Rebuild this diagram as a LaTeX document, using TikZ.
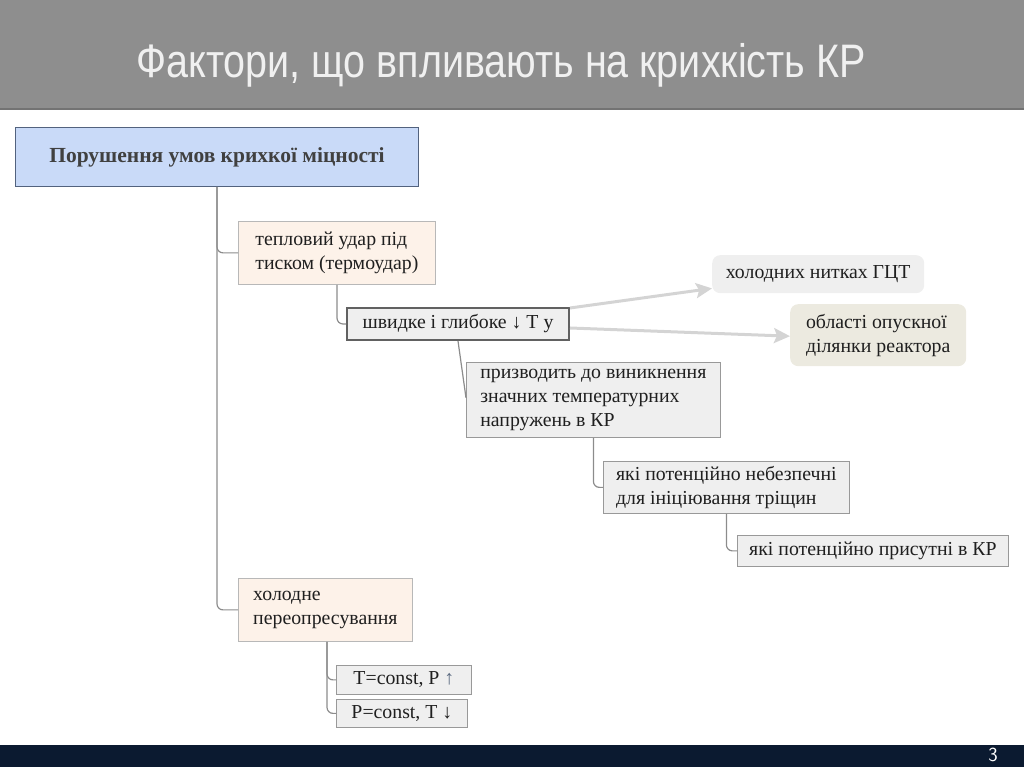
\documentclass[tikz,border=0pt]{standalone}
\usepackage{fontspec}
\setmainfont{Liberation Serif}
\newfontfamily\titlefont[FakeStretch=0.84]{Liberation Sans}
\usetikzlibrary{arrows.meta}

\definecolor{bargrey}{HTML}{8E8E8E}
\definecolor{barnavy}{HTML}{0B1A30}
\definecolor{rootblue}{HTML}{C9DAF8}
\definecolor{rootedge}{HTML}{52627E}
\definecolor{warmfill}{HTML}{FDF2E9}
\definecolor{cellfill}{HTML}{EFEFEF}
\definecolor{beige}{HTML}{ECEAE0}
\definecolor{upblue}{HTML}{5A6A80}

\begin{document}
\begin{tikzpicture}[
  x=1pt, y=1pt,
  txt/.style={font=\fontsize{19.8}{24}\selectfont, text=black!88, align=left},
  mainbox/.style={anchor=north west, draw=rootedge, fill=rootblue, line width=1pt,
                  font=\fontsize{21.5}{25}\selectfont\bfseries, text=black!75},
  warmbox/.style={txt, anchor=north west, draw=black!28, fill=warmfill, line width=0.8pt},
  cellbox/.style={txt, anchor=north west, draw=black!40, fill=cellfill, line width=0.8pt},
  keybox/.style={txt, anchor=north west, draw=black!62, fill=cellfill, line width=2pt},
  notebox/.style={txt, anchor=north west, rounded corners=8pt, inner xsep=10pt},
  link/.style={draw=black!45, line width=1.2pt, rounded corners=6pt},
  hint/.style={draw=black!17, line width=3pt,
               -{Stealth[length=16pt, width=15pt, inset=3pt]}},
]
  \useasboundingbox (0,0) rectangle (1024,767);

  % title and footer bars
  \fill[bargrey] (0,659) rectangle (1024,767);
  \fill[black!55] (0,657) rectangle (1024,659);
  \fill[barnavy] (0,0) rectangle (1024,22);
  \node[anchor=base, font=\titlefont\fontsize{47}{52}\selectfont, text=white!94!black]
    (title) at (501,689) {Фактори, що впливають на крихкість КР};
  \node[anchor=base, font=\sffamily\fontsize{20}{22}\selectfont, text=white]
    (page) at (993,5) {3};

  % Root
  \node[mainbox, minimum width=403pt, minimum height=59pt] (root) at (15,640)
    {Порушення умов крихкої міцності};

  % Thermal shock branch
  \node[warmbox, minimum width=197pt, minimum height=63pt] (shock) at (238,546)
    {тепловий удар під\\ тиском (термоудар)};
  \node[keybox, minimum width=222pt, minimum height=32pt] (drop) at (346,460)
    {швидке і глибоке ↓ T у};
  \node[notebox, fill=cellfill, minimum width=212pt, minimum height=38pt] (legs) at (712,512)
    {холодних нитках ГЦТ};
  \node[notebox, fill=beige, minimum width=176pt, minimum height=62pt] (downcomer) at (790,463)
    {області опускної\\ ділянки реактора};
  \node[cellbox, minimum width=254pt, minimum height=75pt] (stress) at (466,405)
    {призводить до виникнення\\ значних температурних\\ напружень в КР};
  \node[cellbox, minimum width=246pt, minimum height=52pt] (danger) at (603,306)
    {які потенційно небезпечні\\ для ініціювання тріщин};
  \node[cellbox, minimum width=271pt, minimum height=31pt] (present) at (737,232)
    {які потенційно присутні в КР};

  % Cold overpressure branch
  \node[warmbox, minimum width=174pt, minimum height=63pt] (cold) at (238,189)
    {холодне\\ переопресування};
  \node[cellbox, minimum width=135pt, minimum height=29pt] (tconst) at (336,102)
    {T=const, P \textcolor{upblue}{↑}};
  \node[cellbox, minimum width=131pt, minimum height=28pt] (pconst) at (336,68)
    {P=const, T ↓};

  % connectors
  \draw[link] (root.south) |- (shock.west);
  \draw[link] (root.south) |- (cold.west);
  \draw[link] ([xshift=99pt]shock.south west) |- (drop.west);
  \draw[link] (drop.south) -- ([yshift=2pt]stress.west);
  \draw[link] (stress.south) |- (danger.west);
  \draw[link] (danger.south) |- (present.west);
  \draw[link] ([xshift=89pt]cold.south west) |- (tconst.west);
  \draw[link] ([xshift=89pt]cold.south west) |- (pconst.west);

  % hints to the places
  \draw[hint] ([yshift=-1pt]drop.north east) -- ([yshift=5pt]legs.south west);
  \draw[hint] ([yshift=-4pt]drop.east) -- ([yshift=-1pt]downcomer.west);
\end{tikzpicture}
\end{document}
